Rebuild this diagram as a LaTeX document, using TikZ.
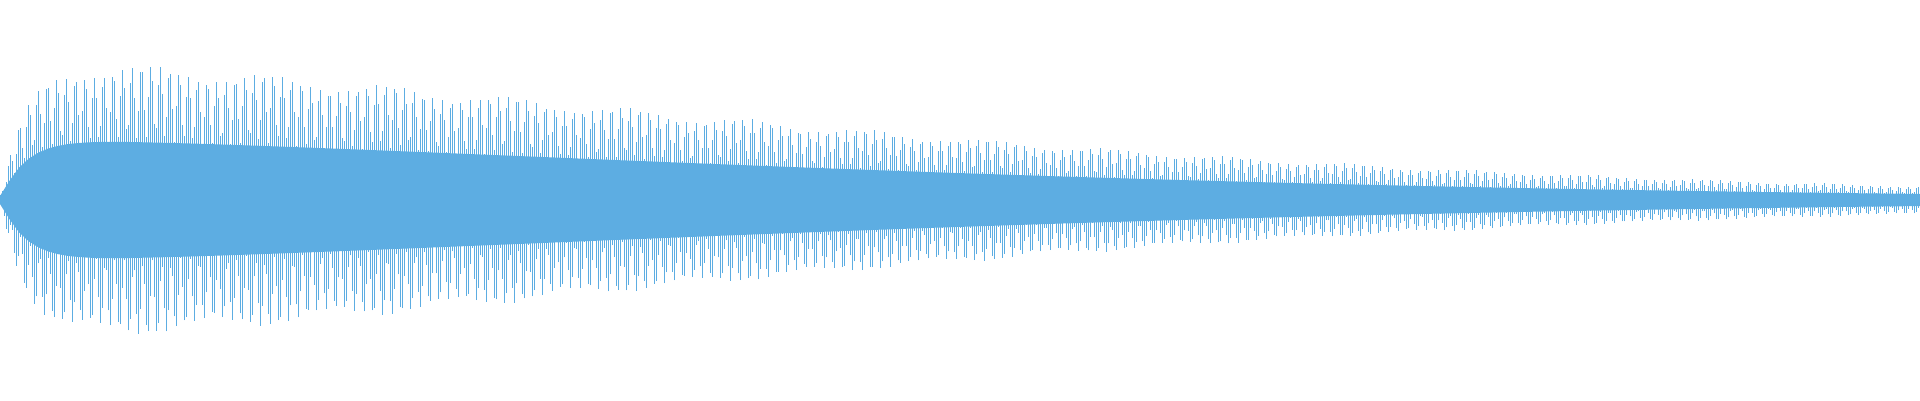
\documentclass[tikz,border=0pt]{standalone}
\usepackage{tikz}
\definecolor{wave}{RGB}{93,173,226}
\tikzset{bar/.style={wave, line width=1pt}}
\begin{document}
\begin{tikzpicture}[x=1pt,y=1pt]
\useasboundingbox (0,-200) rectangle (1920,200);
%solid core
\fill[wave] plot[domain=0:1920,samples=200] (\x,{max(4,0.45*135*exp(-(\x/1100)^1.5)*(1-exp(-\x/25)))})
  -- plot[domain=1920:0,samples=200] (\x,{-max(4,0.45*135*exp(-(\x/1100)^1.5)*(1-exp(-\x/25)))}) -- cycle;
%bars
\foreach \i in {0,2,...,1918}{
  \pgfmathsetmacro\amp{max(5,135*exp(-(\i/1100)^1.5)*(1-exp(-\i/25))*(1+0.05*sin(mod(\i*3,360))))}
  \pgfmathsetmacro\ph{mod(\i,9.4)*180/9.4}
  \pgfmathsetmacro\up{\amp*(0.45+0.55*abs(cos(\ph))^1.5)}
  \pgfmathsetmacro\dn{\amp*(0.45+0.55*abs(cos(\ph+60))^1.5)}
  \draw[bar] (\i+0.5,-\dn) -- (\i+0.5,\up);
}
\end{tikzpicture}
\end{document}
